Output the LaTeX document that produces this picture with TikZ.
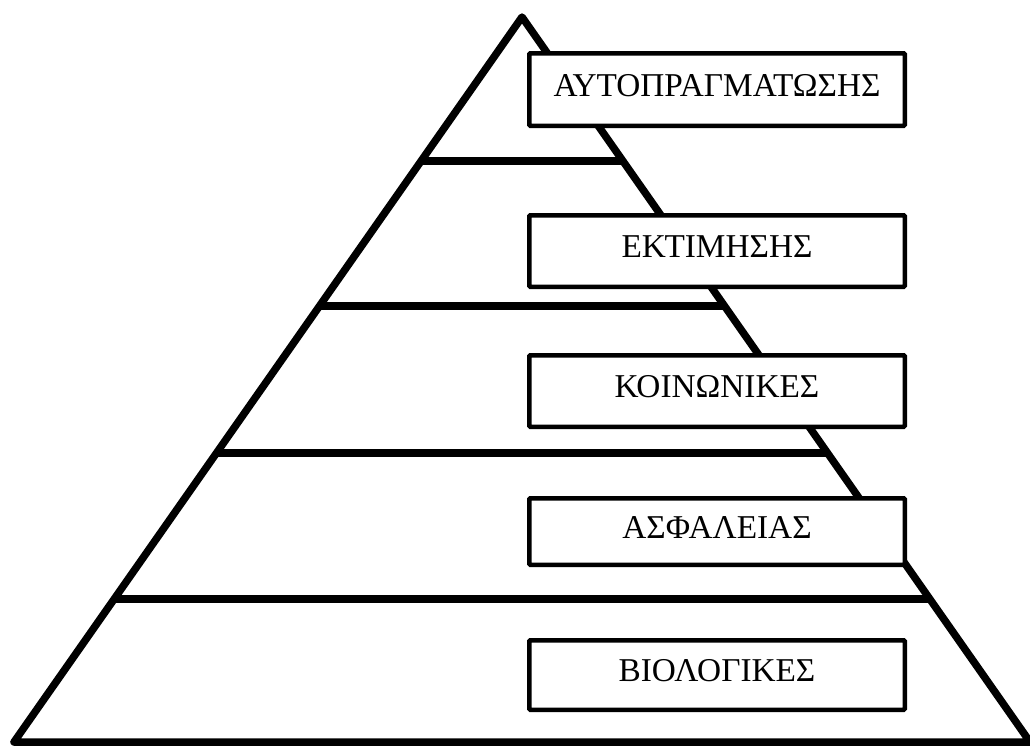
\documentclass[tikz,border=0pt]{standalone}
\usepackage{fontspec}
\setmainfont{Liberation Serif}
\usetikzlibrary{calc}

\tikzset{
  pyramidline/.style={line width=7.5pt, line join=round, line cap=butt},
  levelbox/.style={draw, fill=white, line width=4.5pt, rounded corners=1pt,
    rectangle, minimum width=375.5pt, inner sep=0pt,
    font=\fontsize{33.3}{38}\selectfont, text height=22pt, text depth=9pt}
}

\begin{document}
\begin{tikzpicture}[x=1pt, y=-1pt]
  \useasboundingbox (0,0) rectangle (1030,747);

  % outline of the pyramid
  \coordinate (apex) at (522,17);
  \coordinate (bl) at (14,742);
  \coordinate (br) at (1030,742);
  \draw[pyramidline] (bl) -- (apex) -- (br) -- cycle;

  % horizontal dividers between the levels
  \foreach \t/\n in {0.1986/a, 0.3986/b, 0.6014/c, 0.8028/d} {
    \coordinate (l\n) at ($(apex)!\t!(bl)$);
    \coordinate (r\n) at ($(apex)!\t!(br)$);
    \draw[pyramidline] (l\n) -- (r\n);
  }

  % labels of the levels
  \node[levelbox, minimum height=72.5pt] (self)   at (717,89.5) {ΑΥΤΟΠΡΑΓΜΑΤΩΣΗΣ};
  \node[levelbox, minimum height=71.5pt] (esteem) at (717,251)  {ΕΚΤΙΜΗΣΗΣ};
  \node[levelbox, minimum height=71.5pt] (social) at (717,391)  {ΚΟΙΝΩΝΙΚΕΣ};
  \node[levelbox, minimum height=66.5pt] (safety) at (717,531.5) {ΑΣΦΑΛΕΙΑΣ};
  \node[levelbox, minimum height=69.5pt] (bio)    at (717,675)  {ΒΙΟΛΟΓΙΚΕΣ};
\end{tikzpicture}
\end{document}
